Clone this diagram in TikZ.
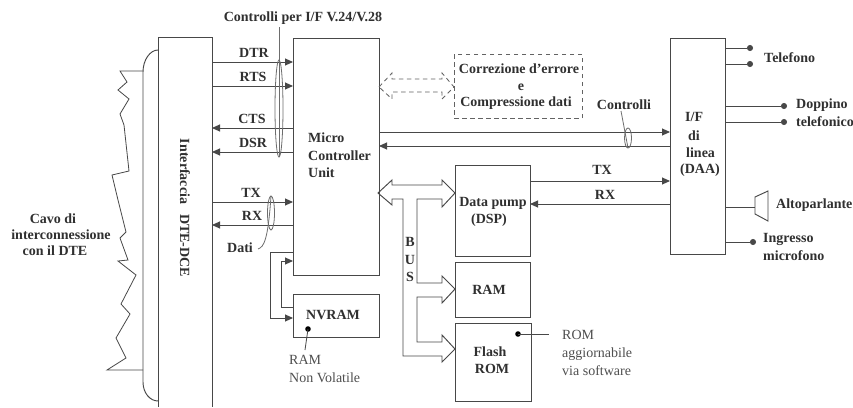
\documentclass[tikz,border=0pt]{standalone}
\usepackage{fontspec}
\setmainfont{Liberation Serif}
\usetikzlibrary{arrows.meta,shapes.geometric}
\definecolor{ink}{HTML}{484848}
\definecolor{txt}{HTML}{303030}
\tikzset{
  ln/.style={draw=ink,line width=0.95pt},
  boxn/.style={ln,rectangle,inner sep=0pt,outer sep=0pt,anchor=north west},
  lab/.style={font=\fontsize{14}{16}\selectfont\bfseries,text=txt,inner sep=0pt},
  labl/.style={lab,anchor=west},
  thin lab/.style={font=\fontsize{14}{16}\selectfont,text=txt!85,inner sep=0pt,anchor=west},
  arr/.style={ln,-{Triangle[length=8pt,width=7pt]}},
  dotend/.style={ln,-{Circle[length=6pt,width=6pt]}},
  ring/.style={ln,draw=ink!80,line width=0.8pt},
  dsh/.style={draw=ink!85,dashed,dash pattern=on 4.5pt off 3.5pt,line width=0.85pt}
}
\begin{document}
\begin{tikzpicture}[x=1pt,y=-1pt]
\useasboundingbox (0,0) rectangle (853,407);
\fill[white] (0,0) rectangle (853,407);
% boxes
\node[anchor=north west,inner sep=0pt,outer sep=0pt,minimum width=54pt,minimum height=370pt] (iface) at (158,37) {};
\draw[ln] (iface.south west)--(iface.north west)--(iface.north east)--(iface.south east);
\node[boxn,minimum width=86pt,minimum height=237pt] (micro) at (293,38) {};
\node[boxn,minimum width=86pt,minimum height=43pt] (nvram) at (293,294) {};
\node[boxn,minimum width=75pt,minimum height=91pt] (dsp) at (455,165) {};
\node[boxn,minimum width=75pt,minimum height=55pt] (ram) at (455,262) {};
\node[boxn,minimum width=76pt,minimum height=78pt] (flash) at (455,323) {};
\node[boxn,minimum width=55pt,minimum height=216pt] (daa) at (670,38) {};
\node[rectangle,inner sep=0pt,outer sep=0pt,anchor=north west,dsh,minimum width=128pt,minimum height=64pt] (ecc) at (454,54) {};
% box texts
\node[lab,rotate=-90] (ifacet) at (185,208) {Interfaccia\hspace{0.7em}DTE-DCE};
\node[labl] (m1) at (308,138) {Micro};
\node[labl] (m2) at (308,156) {Controller};
\node[labl] (m3) at (308,173) {Unit};
\node[lab] (nvt) at (333,315) {NVRAM};
\node[lab] (d1) at (493,203) {Data pump};
\node[lab] (d2) at (489,220) {(DSP)};
\node[lab] (ramt) at (489,290) {RAM};
\node[lab] (f1) at (490,352) {Flash};
\node[lab] (f2) at (492,369) {ROM};
\node[lab] (e1) at (519,69) {Correzione d'errore};
\node[lab] (e2) at (521,87) {e};
\node[lab] (e3) at (516,103) {Compressione dati};
\node[labl] (i1) at (685,117) {I/F};
\node[labl] (i2) at (688,136) {di};
\node[labl] (i3) at (686,153) {linea};
\node[labl] (i4) at (680,170) {(DAA)};
% cable
\coordinate (c0) at (143,72);
\coordinate (c1) at (143,382);
\coordinate (c2) at (158,50);
\coordinate (c3) at (158,401);
\draw[ln] (c2) .. controls (150,50) and (143,60) .. (c0)--(c1) .. controls (143,393) and (150,401) .. (c3);
\draw[ln,line width=0.8pt] (143,71)--(120,71)--(127,82)--(118,90)--(129,99)--(120,114)--(124,125)--(129,171)--(112,175)--(118,200)--(126,232)--(120,238)--(128,260)--(118,261)--(136,275)--(121,304)--(130,314)--(116,338)--(126,358)--(107,370)--(143,370);
\node[lab] (cv1) at (53,219) {Cavo di};
\node[lab] (cv2) at (61,235) {interconnessione};
\node[lab] (cv3) at (55,251) {con il DTE};
% V.24 signals
\draw[arr] (iface.east |- 0,62)--(micro.west |- 0,62);
\draw[arr] (iface.east |- 0,86)--(micro.west |- 0,86);
\draw[arr] (micro.west |- 0,128)--(iface.east |- 0,128);
\draw[arr] (micro.west |- 0,152)--(iface.east |- 0,152);
\draw[arr] (iface.east |- 0,202)--(micro.west |- 0,202);
\draw[arr] (micro.west |- 0,225)--(iface.east |- 0,225);
\node[lab] (dtr) at (254,53) {DTR};
\node[lab] (rts) at (253,77) {RTS};
\node[lab] (cts) at (252,119) {CTS};
\node[lab] (dsr) at (253,143) {DSR};
\node[lab] (tx1) at (251,193) {TX};
\node[lab] (rx1) at (252,216) {RX};
\node[lab] (ctl) at (303,18) {Controlli per I/F V.24/V.28};
\node[ring,ellipse,inner sep=0pt,outer sep=0pt,minimum width=8pt,minimum height=97pt] (ov1) at (279,108.5) {};
\coordinate (ctlb) at (279,27);
\draw[ring] (ov1.south)--(ctlb);
\node[ring,ellipse,inner sep=0pt,outer sep=0pt,minimum width=7pt,minimum height=34pt] (ov2) at (271,213) {};
\node[lab] (dati) at (240,248) {Dati};
\coordinate (datie) at (258,249);
\draw[ring] (ov2.north) .. controls (268,240) and (264,247) .. (datie);
% loops
\draw[arr] (micro.west |- 0,252)--(270,252)--(270,318)--(nvram.west |- 0,318);
\draw[arr] (nvram.west |- 0,307)--(281,307)--(281,261)--(micro.west |- 0,261);
\node[thin lab] (rn1) at (289,360) {RAM};
\node[thin lab] (rn2) at (289,378) {Non Volatile};
\coordinate (nvd) at (308,329);
\coordinate (nve) at (305,350);
\fill[black] (nvd) circle (2.8pt);
\draw[ln,line width=0.8pt] (nvd)--(nve);
% dashed arrow
\draw[dsh] (micro.east |- 0,87)--(392,73)--(392,79)--(442,79)--(442,73)--(ecc.west |- 0,87)--(442,99)--(442,92)--(392,92)--(392,99)--cycle;
% control lines
\draw[arr] (micro.east |- 0,132)--(daa.west |- 0,132);
\draw[arr] (daa.west |- 0,146)--(micro.east |- 0,146);
\node[lab] (ctl2) at (624,105) {Controlli};
\coordinate (ctl2b) at (621,111);
\node[ring,ellipse,inner sep=0pt,outer sep=0pt,minimum width=7pt,minimum height=20pt] (ov3) at (628,138) {};
\draw[ring] (ov3.south)--(ctl2b);
% TX RX
\draw[arr] (dsp.east |- 0,181)--(daa.west |- 0,181);
\draw[arr] (daa.west |- 0,204)--(dsp.east |- 0,204);
\node[lab] (tx2) at (602,170) {TX};
\node[lab] (rx2) at (605,195) {RX};
% bus
\draw[ln] (378,193)--(392,180)--(392,185)--(442,185)--(442,180)--(455,193)--(442,207)--(442,199)--(417,199)--(417,283)--(442,283)--(442,276)--(455,289)--(442,303)--(442,297)--(417,297)--(417,342)--(442,342)--(442,335)--(455,349)--(442,362)--(442,356)--(403,356)--(403,199)--(392,199)--(392,205)--cycle;
\node[lab] (b1) at (410,242) {B};
\node[lab] (b2) at (410,260) {U};
\node[lab] (b3) at (410,277) {S};
% ROM note
\coordinate (fd) at (518,334);
\coordinate (fe) at (549,334);
\fill[black] (fd) circle (2.8pt);
\node[thin lab] (r1) at (562,335) {ROM};
\node[thin lab] (r2) at (562,354) {aggiornabile};
\node[thin lab] (r3) at (562,371) {via software};
\draw[ln,line width=0.8pt] (fd)--(fe);
% right side
\coordinate (t1) at (753,48);
\coordinate (t2) at (753,64);
\coordinate (t3) at (787,106);
\coordinate (t4) at (787,122);
\coordinate (t5) at (756,242);
\draw[dotend] (daa.east |- t1)--(t1);
\draw[dotend] (daa.east |- t2)--(t2);
\draw[dotend] (daa.east |- t3)--(t3);
\draw[dotend] (daa.east |- t4)--(t4);
\draw[dotend] (daa.east |- t5)--(t5);
\node[labl] (tel) at (764,58) {Telefono};
\node[labl] (dop) at (796,105) {Doppino};
\node[labl] (tf) at (796,122) {telefonico};
\node[labl] (alt) at (776,205) {Altoparlante};
\node[labl] (ing) at (763,239) {Ingresso};
\node[labl] (mic) at (763,256) {microfono};
\coordinate (sp) at (755,207);
\draw[ln] (daa.east |- sp)--(sp);
\draw[ln] (755,197)--(768,191)--(768,221)--(755,214)--cycle;
\end{tikzpicture}
\end{document}
